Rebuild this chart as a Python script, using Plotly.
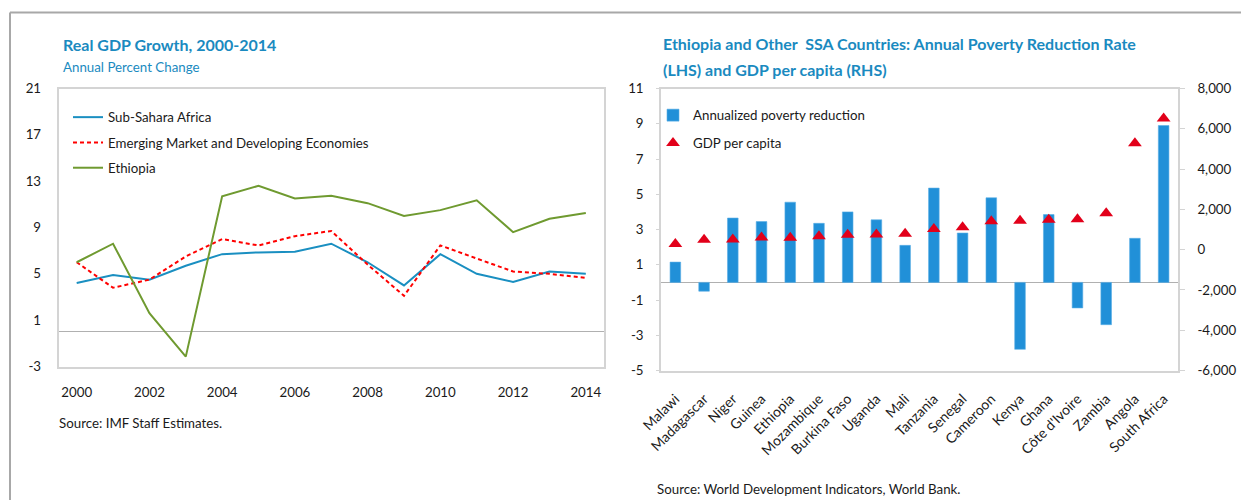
import plotly.graph_objects as go

# ---------------- data ----------------
years = list(range(2000, 2015))
ssa = [4.2, 4.9, 4.5, 5.7, 6.7, 6.85, 6.9, 7.6, 6.0, 4.0, 6.7, 5.0, 4.3, 5.2, 5.0]
emde = [6.0, 3.8, 4.5, 6.5, 8.0, 7.45, 8.25, 8.7, 5.8, 3.1, 7.45, 6.3, 5.2, 5.0, 4.65]
ethiopia = [6.0, 7.6, 1.6, -2.15, 11.7, 12.6, 11.5, 11.75, 11.1, 10.0, 10.5, 11.35, 8.6, 9.75, 10.25]

left_yticks = [-3, 1, 5, 9, 13, 17, 21]
left_ytext = ["-3", "1", "5", "9", "13", "17", "21"]
left_xticks = [2000, 2002, 2004, 2006, 2008, 2010, 2012, 2014]

countries = ["Malawi", "Madagascar", "Niger", "Guinea", "Ethiopia", "Mozambique",
             "Burkina Faso", "Uganda", "Mali", "Tanzania", "Senegal", "Cameroon",
             "Kenya", "Ghana", "Côte d'Ivoire", "Zambia", "Angola", "South Africa"]
poverty_red = [1.15, -0.5, 3.65, 3.45, 4.55, 3.35, 4.0, 3.55, 2.1, 5.35, 2.8, 4.8,
               -3.8, 3.85, -1.45, -2.4, 2.5, 8.9]
gdp_pc = [280, 490, 500, 600, 590, 670, 740, 750, 790, 1030, 1110, 1410,
          1430, 1480, 1510, 1810, 5280, 6510]

r_lticks = [-5, -3, -1, 1, 3, 5, 7, 9, 11]
r_ltext = ["-5", "-3", "-1", "1", "3", "5", "7", "9", "11"]
r_rticks = [-6000, -4000, -2000, 0, 2000, 4000, 6000, 8000]
r_rtext = ["-6,000", "-4,000", "-2,000", "0", "2,000", "4,000", "6,000", "8,000"]

# ---------------- style ----------------
W, H = 1241, 500
FONT = "Lato, Carlito, Calibri, sans-serif"
TITLE_C = "#1a8ac0"
BOX_C = "#d4d4d4"
TXT = "#1a1a1a"
FS = 13.3

def px_x(p):
    return p / W

def px_y(p):
    return 1 - p / H

fig = go.Figure()

# left chart lines
fig.add_trace(go.Scatter(x=years, y=ssa, mode="lines", name="Sub-Sahara Africa",
                         line=dict(color="#1a8fc1", width=2), xaxis="x", yaxis="y",
                         legend="legend", legendgroup="a"))
fig.add_trace(go.Scatter(x=years, y=emde, mode="lines",
                         name="Emerging Market and Developing Economies",
                         line=dict(color="#ff0000", width=2, dash="4px,3px"),
                         xaxis="x", yaxis="y", legend="legend", legendgroup="b"))
fig.add_trace(go.Scatter(x=years, y=ethiopia, mode="lines", name="Ethiopia",
                         line=dict(color="#6f9a30", width=2), xaxis="x", yaxis="y",
                         legend="legend", legendgroup="c"))

# right chart
fig.add_trace(go.Bar(x=countries, y=poverty_red, name="Annualized poverty reduction",
                     marker=dict(color="#2190d8", line=dict(width=0.6, color="#5aaee6")),
                     width=0.37, xaxis="x2", yaxis="y2", legend="legend2", legendgroup="d"))
fig.add_trace(go.Scatter(x=countries, y=gdp_pc, mode="markers", name="GDP per capita",
                         marker=dict(symbol="triangle-up", size=12, color="#e2001a"),
                         xaxis="x2", yaxis="y3", legend="legend2", legendgroup="e"))

L_DOM_X = [px_x(58.5), px_x(604)]
L_DOM_Y = [px_y(366.5), px_y(88.5)]
R_DOM_X = [px_x(661), px_x(1178)]
R_DOM_Y = [px_y(370.5), px_y(88.5)]

axis_font = dict(family=FONT, size=FS, color=TXT)

# zero-line position (paper) for the category tick marks on the right chart
y2_range = [-5, 11]
zero_pos = R_DOM_Y[0] + (0 - y2_range[0]) / (y2_range[1] - y2_range[0]) * (R_DOM_Y[1] - R_DOM_Y[0])
boundaries = [i + 0.5 for i in range(len(countries) - 1)]

fig.update_layout(
    width=W, height=H,
    margin=dict(l=0, r=0, t=0, b=0, autoexpand=False),
    paper_bgcolor="white", plot_bgcolor="white",
    font=dict(family=FONT, size=FS, color=TXT),
    showlegend=True,
    xaxis=dict(domain=L_DOM_X, range=[1999.5, 2014.5], tickvals=left_xticks,
               showgrid=False, zeroline=False, showline=True, linecolor=BOX_C,
               linewidth=1.5, mirror=True, ticks="", tickfont=axis_font,
               ticklabelstandoff=13, anchor="y", automargin=False),
    yaxis=dict(domain=L_DOM_Y, range=[-3, 21], tickvals=left_yticks, ticktext=left_ytext,
               showgrid=False, zeroline=True, zerolinecolor="#b0b0b0", zerolinewidth=1.2,
               showline=True, linecolor=BOX_C, linewidth=1.5, mirror=True, ticks="",
               tickfont=axis_font, ticklabelstandoff=13, anchor="x", automargin=False),
    xaxis2=dict(domain=R_DOM_X, type="category", range=[-0.5, len(countries) - 0.5],
                showgrid=False, zeroline=False, showline=True, linecolor=BOX_C,
                linewidth=1.5, mirror=True, ticks="", tickangle=-45,
                tickfont=dict(family=FONT, size=14, color=TXT),
                ticklabelstandoff=13, anchor="y2", automargin=False),
    xaxis3=dict(domain=R_DOM_X, range=[-0.5, len(countries) - 0.5], overlaying="x2",
                anchor="free", position=zero_pos, tickvals=boundaries, ticks="inside",
                ticklen=4, tickcolor="#c0c0c0", showticklabels=False, showgrid=False,
                zeroline=False, showline=False, automargin=False),
    yaxis2=dict(domain=R_DOM_Y, range=y2_range, tickvals=r_lticks, ticktext=r_ltext,
                showgrid=False, zeroline=True, zerolinecolor="#b0b0b0", zerolinewidth=1.2,
                showline=True, linecolor=BOX_C, linewidth=1.5, ticks="outside", ticklen=3,
                tickcolor=BOX_C, tickfont=axis_font, ticklabelstandoff=10, anchor="x2",
                automargin=False),
    yaxis3=dict(domain=R_DOM_Y, range=[-6000, 8000], tickvals=r_rticks, ticktext=r_rtext,
                overlaying="y2", side="right", showgrid=False, zeroline=False,
                showline=True, linecolor=BOX_C, linewidth=1.5, ticks="outside", ticklen=5,
                tickcolor=BOX_C, tickfont=axis_font, ticklabelstandoff=10, anchor="x2",
                automargin=False),
    legend=dict(x=px_x(68), y=px_y(102), xanchor="left", yanchor="top",
                bgcolor="rgba(0,0,0,0)", font=dict(family=FONT, size=FS, color=TXT),
                tracegroupgap=5, itemwidth=30, traceorder="grouped"),
    legend2=dict(x=px_x(653), y=px_y(100), xanchor="left", yanchor="top",
                 bgcolor="rgba(0,0,0,0)", font=dict(family=FONT, size=FS, color=TXT),
                 tracegroupgap=7.5, itemwidth=30, traceorder="grouped"),
    shapes=[
        dict(type="line", xref="paper", yref="paper", x0=px_x(10), x1=1,
             y0=px_y(12.5), y1=px_y(12.5), line=dict(color="#a8a8a8", width=2)),
        dict(type="line", xref="paper", yref="paper", x0=px_x(10), x1=px_x(10),
             y0=px_y(12.5), y1=0, line=dict(color="#a8a8a8", width=2)),
    ],
    annotations=[
        dict(text="<b>Real GDP Growth, 2000-2014</b>", x=px_x(61), y=px_y(45),
             xref="paper", yref="paper", xanchor="left", yanchor="middle",
             showarrow=False, font=dict(family=FONT, size=16, color=TITLE_C)),
        dict(text="Annual Percent Change", x=px_x(61), y=px_y(67),
             xref="paper", yref="paper", xanchor="left", yanchor="middle",
             showarrow=False, font=dict(family=FONT, size=FS, color=TITLE_C)),
        dict(text="Source: IMF Staff Estimates.", x=px_x(57), y=px_y(423),
             xref="paper", yref="paper", xanchor="left", yanchor="middle",
             showarrow=False, font=dict(family=FONT, size=FS, color=TXT)),
        dict(text="<b>Ethiopia and Other  SSA Countries: Annual Poverty Reduction Rate</b>",
             x=px_x(661), y=px_y(43.5), xref="paper", yref="paper", xanchor="left",
             yanchor="middle", showarrow=False,
             font=dict(family=FONT, size=16, color=TITLE_C)),
        dict(text="<b>(LHS) and GDP per capita (RHS)</b>",
             x=px_x(661), y=px_y(69), xref="paper", yref="paper", xanchor="left",
             yanchor="middle", showarrow=False,
             font=dict(family=FONT, size=16, color=TITLE_C)),
        dict(text="Source: World Development Indicators, World Bank.", x=px_x(655),
             y=px_y(489), xref="paper", yref="paper", xanchor="left", yanchor="middle",
             showarrow=False, font=dict(family=FONT, size=FS, color=TXT)),
    ],
)

fig.write_html("out.html", config={"displayModeBar": False},
               post_script="document.body.style.margin='0px';"
                           "document.body.style.overflow='hidden';")
